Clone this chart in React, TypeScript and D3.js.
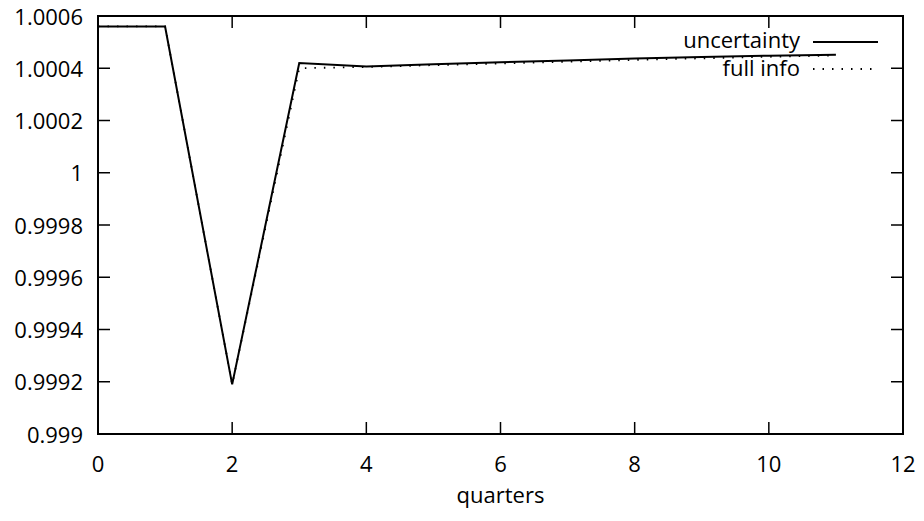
import React from "react";
import * as d3 from "d3";

const quarters = [0, 1, 2, 3, 4, 5, 6, 7, 8, 9, 10, 11];
const uncertainty = [1.00056, 1.00056, 0.99919, 1.00042, 1.000407, 1.000415, 1.000423, 1.00043, 1.000437, 1.000443, 1.000448, 1.000452];
const fullInfo = [1.00056, 1.00056, 0.99919, 1.0004, 1.000405, 1.000412, 1.000418, 1.000425, 1.000432, 1.000438, 1.000444, 1.000449];
const xTicks = [0, 2, 4, 6, 8, 10, 12];
const yTicks = [0.999, 0.9992, 0.9994, 0.9996, 0.9998, 1, 1.0002, 1.0004, 1.0006];
const yTickLabels = ["0.999", "0.9992", "0.9994", "0.9996", "0.9998", "1", "1.0002", "1.0004", "1.0006"];
const seriesNames = ["uncertainty", "full info"];

const W = 924, H = 521;
const L = 98, R = 903, T = 16, B = 434;
const font = "'Open Sans', sans-serif";

export default function App() {
  const x = d3.scaleLinear().domain([0, 12]).range([L, R]);
  const y = d3.scaleLinear().domain([0.999, 1.0006]).range([B, T]);
  const line = d3.line<[number, number]>().x(d => x(d[0])).y(d => y(d[1]));
  const u = line(quarters.map((q, i) => [q, uncertainty[i]] as [number, number])) || "";
  const f = line(quarters.map((q, i) => [q, fullInfo[i]] as [number, number])) || "";
  const tl = 12;
  return (
    <svg width={W} height={H} style={{ position: "absolute", left: 0, top: 0, background: "#fff" }}>
      <rect x={0} y={0} width={W} height={H} fill="#fff" />
      <g stroke="#000" strokeWidth={1.5}>
        {xTicks.map(t => (
          <g key={"x" + t}>
            <line x1={x(t)} x2={x(t)} y1={B} y2={B - tl} />
            <line x1={x(t)} x2={x(t)} y1={T} y2={T + tl} />
          </g>
        ))}
        {yTicks.map(t => (
          <g key={"y" + t}>
            <line x1={L} x2={L + tl} y1={y(t)} y2={y(t)} />
            <line x1={R} x2={R - tl} y1={y(t)} y2={y(t)} />
          </g>
        ))}
      </g>
      <g fontFamily={font} fontSize={22} fill="#000">
        {xTicks.map(t => (
          <text key={"xl" + t} x={x(t)} y={472} textAnchor="middle">{t}</text>
        ))}
        {yTicks.map((t, i) => (
          <text key={"yl" + t} x={83} y={y(t) + 8.5} textAnchor="end">{yTickLabels[i]}</text>
        ))}
        <text x={(L + R) / 2} y={503} textAnchor="middle">quarters</text>
        <text x={800} y={48} textAnchor="end">{seriesNames[0]}</text>
        <text x={800} y={76} textAnchor="end">{seriesNames[1]}</text>
      </g>
      <path d={f} fill="none" stroke="#000" strokeWidth={1.8} strokeDasharray="1.5,8" />
      <path d={u} fill="none" stroke="#000" strokeWidth={2} />
      <line x1={813} x2={878} y1={42} y2={42} stroke="#000" strokeWidth={2} />
      <line x1={813} x2={878} y1={69} y2={69} stroke="#000" strokeWidth={1.8} strokeDasharray="1.5,8" />
      <rect x={L} y={T} width={R - L} height={B - T} fill="none" stroke="#000" strokeWidth={2} />
    </svg>
  );
}
